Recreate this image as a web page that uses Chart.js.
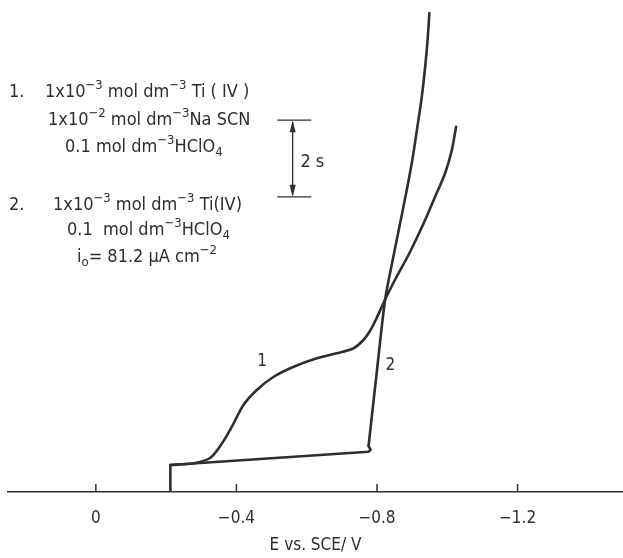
<!DOCTYPE html>
<html>
<head>
<meta charset="utf-8">
<script src="https://cdn.jsdelivr.net/npm/chart.js@4.4.1/dist/chart.umd.min.js"></script>
<style>
  html, body { margin: 0; padding: 0; background: #fff; }
  #wrap { width: 623px; height: 558px; }
</style>
</head>
<body>
<div id="wrap"><canvas id="myChart"></canvas></div>
<script>
// potential E vs SCE (V) and time (s)
var stepE = [-0.212, -0.212];
var stepT = [0, 0.705];

var curve1E = [-0.212, -0.278, -0.325, -0.359, -0.387, -0.420, -0.458, -0.506, -0.563, -0.629, -0.685,
               -0.732, -0.760, -0.780, -0.797, -0.823, -0.857, -0.891, -0.937, -0.965, -0.994, -1.013, -1.025];
var curve1T = [0.705, 0.749, 0.888, 1.272, 1.705, 2.272, 2.663, 3.010, 3.272, 3.491, 3.622,
               3.748, 3.957, 4.205, 4.505, 5.027, 5.641, 6.216, 7.104, 7.704, 8.331, 8.932, 9.540];

// curve 2: flat baseline with small hook, then the steep rise
var curve2BaseE = [-0.212, -0.776, -0.782, -0.776];
var curve2BaseT = [0.705, 1.052, 1.100, 1.201];
var curve2RiseE = [-0.776, -0.800, -0.823, -0.843, -0.863, -0.883, -0.900, -0.914, -0.927, -0.937, -0.944, -0.949];
var curve2RiseT = [1.201, 3.186, 5.014, 5.981, 6.895, 7.809, 8.644, 9.480, 10.290, 11.100, 11.805, 12.510];

var tickValues = [0, -0.4, -0.8, -1.2];
var curveLabels = ['1', '2'];

var ink = '#2e2e2e';
var fontFam = '"DejaVu Sans Condensed", "Liberation Sans Narrow", "DejaVu Sans", sans-serif';

function toPoints(xs, ys) {
    return xs.map(function (x, i) { return { x: x, y: ys[i] }; });
}

function fmtTick(v) {
    if (Math.abs(v) < 1e-9) return '0';
    return '\u2212' + Math.abs(v).toFixed(1);
}

// text lines: [text, mode] with mode 1 = superscript, -1 = subscript
var noteLines = [
    { x: 9, y: 92, segs: [['1.', 0]] },
    { x: 45, y: 92, segs: [['1x10', 0], ['\u22123', 1], [' mol dm', 0], ['\u22123', 1], [' Ti ( IV )', 0]] },
    { x: 48, y: 120, segs: [['1x10', 0], ['\u22122', 1], [' mol dm', 0], ['\u22123', 1], ['Na SCN', 0]] },
    { x: 65, y: 147, segs: [['0.1 mol dm', 0], ['\u22123', 1], ['HClO', 0], ['4', -1]] },
    { x: 9, y: 205, segs: [['2.', 0]] },
    { x: 53, y: 205, segs: [['1x10', 0], ['\u22123', 1], [' mol dm', 0], ['\u22123', 1], [' Ti(IV)', 0]] },
    { x: 67, y: 230, segs: [['0.1  mol dm', 0], ['\u22123', 1], ['HClO', 0], ['4', -1]] },
    { x: 77, y: 257, segs: [['i', 0], ['o', -1], ['= 81.2 \u03bcA cm', 0], ['\u22122', 1]] }
];

function drawRich(ctx, x, y, segs, size) {
    ctx.textBaseline = 'middle';
    ctx.textAlign = 'left';
    var cx = x;
    segs.forEach(function (s) {
        var fs = s[1] === 0 ? size : Math.round(size * 0.72);
        var dy = s[1] === 1 ? -size * 0.35 : (s[1] === -1 ? size * 0.3 : 0);
        ctx.font = fs + 'px ' + fontFam;
        ctx.fillText(s[0], cx, y + dy);
        cx += ctx.measureText(s[0]).width;
    });
}

var extrasPlugin = {
    id: 'extras',
    afterDraw: function (chart) {
        var ctx = chart.ctx;
        var xs = chart.scales.x, ys = chart.scales.y;
        ctx.save();
        // upward tick marks
        ctx.strokeStyle = ink;
        ctx.lineWidth = 1.5;
        tickValues.forEach(function (v) {
            var px = xs.getPixelForValue(v);
            ctx.beginPath();
            ctx.moveTo(px, ys.bottom);
            ctx.lineTo(px, ys.bottom - 8);
            ctx.stroke();
        });
        // 2 s scale bar
        var barX = xs.getPixelForValue(-0.560);
        var bx0 = xs.getPixelForValue(-0.516), bx1 = xs.getPixelForValue(-0.613);
        var yTop = ys.getPixelForValue(9.71), yBot = ys.getPixelForValue(7.71);
        ctx.lineWidth = 1.3;
        ctx.beginPath();
        ctx.moveTo(bx0, yTop); ctx.lineTo(bx1, yTop);
        ctx.moveTo(bx0, yBot); ctx.lineTo(bx1, yBot);
        ctx.moveTo(barX, yTop + 2); ctx.lineTo(barX, yBot - 2);
        ctx.stroke();
        ctx.fillStyle = ink;
        [[yTop, 1], [yBot, -1]].forEach(function (a) {
            ctx.beginPath();
            ctx.moveTo(barX, a[0]);
            ctx.lineTo(barX - 3, a[0] + a[1] * 12);
            ctx.lineTo(barX + 3, a[0] + a[1] * 12);
            ctx.closePath();
            ctx.fill();
        });
        ctx.font = '18px ' + fontFam;
        ctx.textBaseline = 'middle';
        ctx.fillText('2 s', xs.getPixelForValue(-0.582), ys.getPixelForValue(8.62));
        // curve labels
        ctx.font = '17px ' + fontFam;
        ctx.textAlign = 'center';
        ctx.fillText(curveLabels[0], xs.getPixelForValue(-0.473), ys.getPixelForValue(3.40));
        ctx.fillText(curveLabels[1], xs.getPixelForValue(-0.838), ys.getPixelForValue(3.30));
        // legend-like notes
        noteLines.forEach(function (l) { drawRich(ctx, l.x, l.y, l.segs, 18); });
        ctx.restore();
    }
};

function lineSet(xs, ys, tension) {
    return {
        data: toPoints(xs, ys),
        borderColor: ink,
        borderWidth: 2.6,
        pointRadius: 0,
        fill: false,
        tension: tension,
        borderCapStyle: 'round',
        borderJoinStyle: 'round',
        showLine: true
    };
}

var ctx = document.getElementById('myChart').getContext('2d');
var myChart = new Chart(ctx, {
    type: 'scatter',
    data: {
        datasets: [
            lineSet(stepE, stepT, 0),
            lineSet(curve1E, curve1T, 0.3),
            lineSet(curve2BaseE, curve2BaseT, 0),
            lineSet(curve2RiseE, curve2RiseT, 0.3)
        ]
    },
    options: {
        responsive: true,
        maintainAspectRatio: false,
        animation: false,
        layout: { padding: { left: 8, right: 0, top: 0, bottom: 0 } },
        plugins: {
            legend: { display: false },
            tooltip: { enabled: false }
        },
        scales: {
            x: {
                type: 'linear',
                reverse: true,
                min: -1.5,
                max: 0.25,
                afterBuildTicks: function (scale) {
                    scale.ticks = tickValues.map(function (v) { return { value: v }; });
                },
                afterFit: function (scale) { scale.height = 66; },
                grid: { display: false, drawTicks: false },
                border: { display: true, color: ink, width: 1.5 },
                ticks: {
                    color: ink,
                    padding: 16,
                    maxRotation: 0,
                    font: { family: fontFam, size: 17 },
                    callback: function (v) { return fmtTick(v); }
                },
                title: {
                    display: true,
                    text: 'E vs. SCE/ V',
                    color: ink,
                    padding: { top: 0, bottom: 2 },
                    font: { family: fontFam, size: 17 }
                }
            },
            y: {
                type: 'linear',
                display: false,
                min: 0,
                max: 12.85
            }
        }
    },
    plugins: [extrasPlugin]
});
</script>
</body>
</html>
